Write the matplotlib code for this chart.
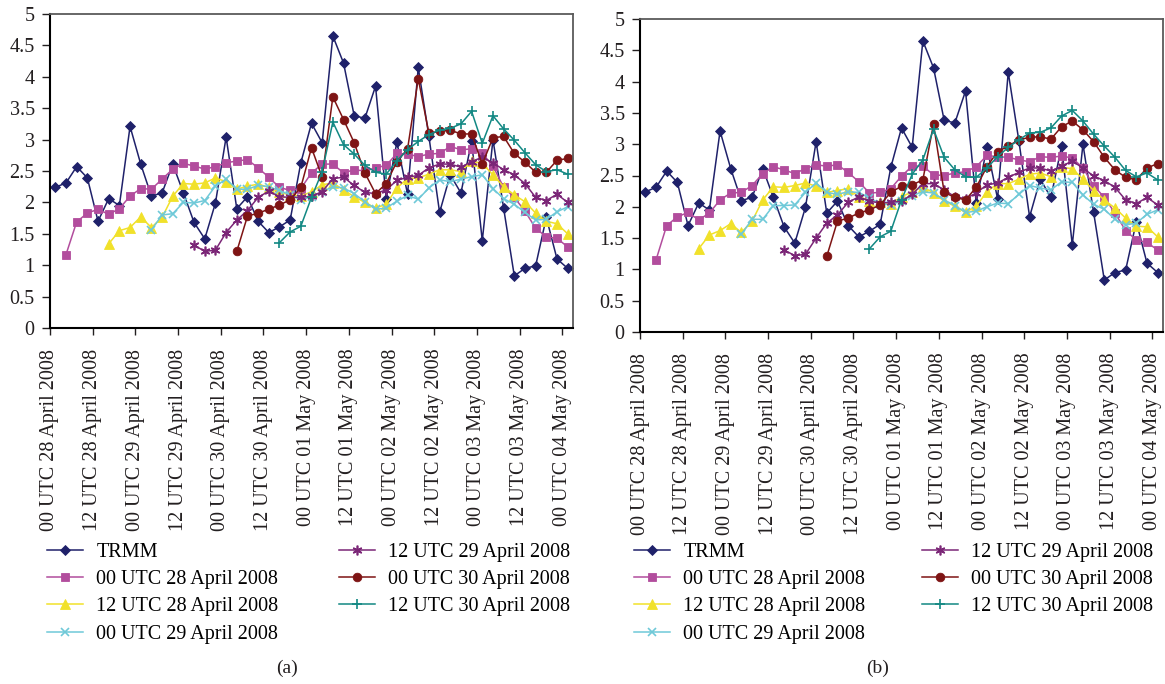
import numpy as np
import matplotlib
matplotlib.use('Agg')
import matplotlib.pyplot as plt

plt.rcParams['font.family'] = ['Liberation Serif', 'DejaVu Serif']

# 3-hourly steps, 00 UTC 28 April 2008 -> 00 UTC 04 May 2008
n_steps = 49
tick_labels = ['00 UTC 28 April 2008', '12 UTC 28 April 2008', '00 UTC 29 April 2008',
               '12 UTC 29 April 2008', '00 UTC 30 April 2008', '12 UTC 30 April 2008',
               '00 UTC 01 May 2008', '12 UTC 01 May 2008', '00 UTC 02 May 2008',
               '12 UTC 02 May 2008', '00 UTC 03 May 2008', '12 UTC 03 May 2008',
               '00 UTC 04 May 2008']
series_names = ['TRMM', '00 UTC 28 April 2008', '12 UTC 28 April 2008', '00 UTC 29 April 2008',
                '12 UTC 29 April 2008', '00 UTC 30 April 2008', '12 UTC 30 April 2008']

trmm = [2.24, 2.31, 2.57, 2.39, 1.70, 2.06, 1.95, 3.21, 2.61, 2.10, 2.15, 2.61, 2.15, 1.68,
        1.42, 1.99, 3.04, 1.90, 2.09, 1.70, 1.52, 1.61, 1.72, 2.63, 3.26, 2.95, 4.65, 4.22,
        3.38, 3.34, 3.85, 2.06, 2.96, 2.13, 4.15, 3.05, 1.84, 2.44, 2.15, 2.97, 1.39, 3.00,
        1.91, 0.83, 0.95, 0.99, 1.76, 1.10, 0.95]

# panel (a) forecasts (each run ends 00 UTC 04 May)
a_00_28apr = [1.17, 1.69, 1.83, 1.89, 1.81, 1.90, 2.10, 2.22, 2.21, 2.37, 2.53, 2.62, 2.58,
              2.53, 2.57, 2.63, 2.66, 2.68, 2.55, 2.40, 2.24, 2.19, 2.22, 2.47, 2.61, 2.61,
              2.47, 2.52, 2.50, 2.55, 2.59, 2.78, 2.77, 2.73, 2.77, 2.78, 2.89, 2.84, 2.85,
              2.78, 2.58, 2.24, 2.08, 1.86, 1.59, 1.45, 1.43, 1.29]
a_12_28apr = [1.34, 1.55, 1.60, 1.77, 1.60, 1.76, 2.10, 2.30, 2.29, 2.31, 2.39, 2.33, 2.21,
              2.26, 2.29, 2.24, 2.16, 2.12, 2.10, 2.17, 2.28, 2.31, 2.20, 2.09, 2.00, 1.91,
              1.97, 2.23, 2.38, 2.39, 2.45, 2.52, 2.52, 2.49, 2.66, 2.62, 2.44, 2.25, 2.12,
              2.01, 1.83, 1.70, 1.66, 1.50]
a_00_29apr = [1.56, 1.80, 1.82, 2.00, 1.99, 2.03, 2.26, 2.37, 2.21, 2.21, 2.27, 2.25, 2.19,
              2.12, 2.04, 2.09, 2.17, 2.25, 2.23, 2.14, 2.01, 1.89, 1.91, 2.02, 2.11, 2.05,
              2.23, 2.36, 2.33, 2.37, 2.41, 2.44, 2.22, 2.06, 1.97, 1.84, 1.72, 1.73, 1.85, 1.93]
a_12_29apr = [1.32, 1.22, 1.24, 1.52, 1.72, 1.87, 2.08, 2.18, 2.09, 2.08, 2.08, 2.10, 2.17,
              2.38, 2.40, 2.27, 2.16, 2.14, 2.20, 2.35, 2.40, 2.43, 2.55, 2.61, 2.61, 2.56,
              2.65, 2.72, 2.63, 2.52, 2.44, 2.30, 2.08, 2.03, 2.13, 2.00]
a_00_30apr = [1.22, 1.78, 1.83, 1.89, 1.96, 2.04, 2.24, 2.87, 2.40, 3.68, 3.32, 2.95, 2.47,
              2.14, 2.30, 2.65, 2.85, 3.97, 3.10, 3.13, 3.15, 3.09, 3.09, 2.61, 3.03, 3.05,
              2.78, 2.64, 2.48, 2.48, 2.67, 2.70]
a_12_30apr = [1.36, 1.53, 1.62, 2.08, 2.49, 3.28, 2.92, 2.77, 2.59, 2.48, 2.45, 2.66, 2.84,
              2.97, 3.08, 3.15, 3.18, 3.25, 3.45, 2.94, 3.38, 3.17, 2.99, 2.79, 2.60, 2.49,
              2.52, 2.45]

# panel (b) forecasts
b_00_28apr = [1.15, 1.70, 1.84, 1.91, 1.79, 1.90, 2.11, 2.22, 2.23, 2.34, 2.53, 2.64, 2.59,
              2.53, 2.61, 2.67, 2.65, 2.67, 2.55, 2.40, 2.22, 2.23, 2.29, 2.49, 2.65, 2.65,
              2.51, 2.50, 2.54, 2.56, 2.64, 2.82, 2.80, 2.79, 2.75, 2.72, 2.80, 2.79, 2.81,
              2.78, 2.62, 2.34, 2.15, 1.90, 1.62, 1.47, 1.43, 1.31]
b_12_28apr = [1.33, 1.55, 1.62, 1.73, 1.59, 1.77, 2.11, 2.32, 2.31, 2.34, 2.38, 2.33, 2.23,
              2.26, 2.29, 2.16, 2.10, 2.07, 2.05, 2.16, 2.24, 2.32, 2.22, 2.09, 2.01, 1.91,
              2.01, 2.24, 2.37, 2.37, 2.44, 2.52, 2.54, 2.48, 2.63, 2.61, 2.44, 2.26, 2.11,
              1.98, 1.82, 1.69, 1.68, 1.52]
b_00_29apr = [1.56, 1.80, 1.80, 2.02, 2.02, 2.03, 2.23, 2.38, 2.23, 2.20, 2.24, 2.23, 2.14,
              2.05, 2.03, 2.09, 2.18, 2.24, 2.22, 2.11, 2.02, 1.91, 1.93, 2.00, 2.06, 2.05,
              2.20, 2.34, 2.30, 2.27, 2.40, 2.39, 2.19, 2.04, 1.96, 1.80, 1.71, 1.74, 1.88, 1.95]
b_12_29apr = [1.31, 1.22, 1.24, 1.50, 1.74, 1.87, 2.07, 2.16, 2.09, 2.06, 2.07, 2.09, 2.20,
              2.37, 2.37, 2.27, 2.16, 2.13, 2.22, 2.35, 2.38, 2.47, 2.55, 2.62, 2.62, 2.57,
              2.65, 2.73, 2.62, 2.49, 2.42, 2.31, 2.11, 2.05, 2.15, 2.03]
b_00_30apr = [1.21, 1.77, 1.82, 1.90, 1.95, 2.03, 2.23, 2.33, 2.35, 2.43, 3.32, 2.23, 2.15,
              2.11, 2.31, 2.64, 2.88, 2.97, 3.07, 3.11, 3.12, 3.08, 3.28, 3.37, 3.23, 3.04,
              2.79, 2.59, 2.47, 2.43, 2.62, 2.69]
b_12_30apr = [1.33, 1.52, 1.61, 2.11, 2.52, 2.75, 3.24, 2.79, 2.59, 2.48, 2.47, 2.62, 2.80,
              2.95, 3.07, 3.18, 3.19, 3.26, 3.45, 3.54, 3.37, 3.16, 2.97, 2.79, 2.58, 2.48,
              2.54, 2.43]

colors = ['#1f216a', '#b24d9d', '#f1e12a', '#6fc9d8', '#7b2677', '#7e1414', '#128883']
markers = ['D', 's', '^', 'x', (6, 2, 0), 'o', '+']
msizes = [5, 5.8, 7, 6, 7, 6.2, 7.5]


def pad(vals):
    # runs start later but all end at the last step
    return [np.nan] * (n_steps - len(vals)) + list(vals)


def draw_panel(ax, data):
    x = np.arange(n_steps) + 0.5
    lines = []
    for vals, c, m, ms in zip(data, colors, markers, msizes):
        ln, = ax.plot(x, pad(vals), color=c, marker=m, markersize=ms, linewidth=1.1,
                      markeredgewidth=1.2 if m in ('x', '+', (6, 2, 0)) else 0.6,
                      markeredgecolor=c, markerfacecolor=c)
        lines.append(ln)
    ax.set_xlim(0, n_steps)
    ax.set_ylim(0, 5)
    ax.set_yticks(np.arange(0, 5.01, 0.5))
    ax.set_yticklabels(['0', '0.5', '1', '1.5', '2', '2.5', '3', '3.5', '4', '4.5', '5'])
    ax.set_xticks(np.arange(0, n_steps, 4))
    ax.set_xticklabels(tick_labels, rotation=90, va='top', ha='center')
    ax.tick_params(axis='y', direction='out', length=6, width=1, labelsize=14.5, pad=5,
                   colors='#231f20')
    ax.tick_params(axis='x', direction='out', length=5, width=1, labelsize=14.5, pad=10,
                   colors='#231f20')
    for s in ('left', 'bottom'):
        ax.spines[s].set_color('black')
        ax.spines[s].set_linewidth(1.5)
    for s in ('top', 'right'):
        ax.spines[s].set_color('#5a5a5a')
        ax.spines[s].set_linewidth(1.3)
    return lines


W, H = 1165, 684
fig = plt.figure(figsize=(W / 100, H / 100), dpi=100)
ax_a = fig.add_axes([50 / W, 1 - 328 / H, 523 / W, 314 / H])
ax_b = fig.add_axes([640 / W, 1 - 332 / H, 523 / W, 313 / H])

lines_a = draw_panel(ax_a, [trmm, a_00_28apr, a_12_28apr, a_00_29apr, a_12_29apr, a_00_30apr, a_12_30apr])
lines_b = draw_panel(ax_b, [trmm, b_00_28apr, b_12_28apr, b_00_29apr, b_12_29apr, b_00_30apr, b_12_30apr])

leg_kw = dict(loc='upper left', frameon=False, borderpad=0, borderaxespad=0, handlelength=1.8,
              handletextpad=0.65, labelspacing=0.4, fontsize=14.5)
for lines, x1, x2 in ((lines_a, 47, 339), (lines_b, 634, 922)):
    fig.legend(lines[:4], series_names[:4], bbox_to_anchor=(x1 / W, 1 - 543 / H), **leg_kw)
    fig.legend(lines[4:], series_names[4:], bbox_to_anchor=(x2 / W, 1 - 543 / H), **leg_kw)

fig.text(287 / W, 1 - 668 / H, '(a)', ha='center', va='center', fontsize=14, color='#231f20')
fig.text(878 / W, 1 - 668 / H, '(b)', ha='center', va='center', fontsize=14, color='#231f20')

fig.savefig('out.png', dpi=100)
